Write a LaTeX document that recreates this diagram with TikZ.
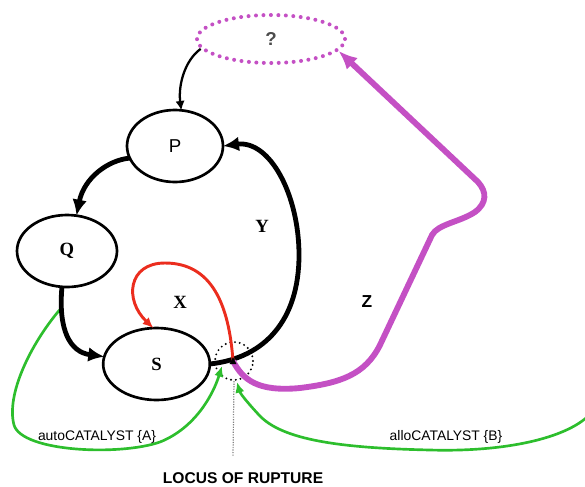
\documentclass[tikz,border=0pt]{standalone}
\usepackage{fontspec}
\setmainfont{Liberation Serif}
\setsansfont{Liberation Sans}
\usetikzlibrary{arrows.meta,shapes.geometric}
\definecolor{mag}{RGB}{196,80,196}
\definecolor{grn}{RGB}{45,190,45}
\definecolor{rd}{RGB}{235,45,30}
\tikzset{
  ell/.style={ellipse, draw, line width=2pt, inner sep=0pt, outer sep=0pt},
  lbl/.style={font=\sffamily\fontsize{10.4}{12}\selectfont},
  thickarrow/.style={line width=3.6pt, -{Latex[length=12pt,width=11pt]}},
  thinarrow/.style={line width=1.7pt, -{Latex[length=7pt,width=7pt]}},
  redarrow/.style={rd, line width=2.2pt, -{Latex[length=8pt,width=7pt]}},
  magarrow/.style={mag, line width=4.4pt, -{Latex[length=14pt,width=12pt]}},
  grnarrow/.style={grn, line width=2pt, -{Latex[length=8pt,width=7pt]}},
  bigserif/.style={font=\bfseries\fontsize{14}{14}\selectfont},
}
\begin{document}
\begin{tikzpicture}[x=0.75pt,y=-0.75pt]
\useasboundingbox (0,0) rectangle (585,486);
% nodes
\node[ell, minimum width=72pt, minimum height=54pt, font=\sffamily\fontsize{14}{14}\selectfont] (P) at (175,146) {P};
\node[ell, bigserif, minimum width=75pt, minimum height=54pt] (Q) at (67,251) {Q};
\node[ell, bigserif, minimum width=80pt, minimum height=54pt] (S) at (156.5,364) {S};
\node[ellipse, draw=mag, line width=3pt, line cap=round, dash pattern=on 0pt off 5.6pt,
      minimum width=111pt, minimum height=36pt, inner sep=0pt,
      font=\sffamily\bfseries\fontsize{14}{14}\selectfont, text=black!70] (qm) at (271,39) {?};
\node[circle, draw, line width=1.6pt, line cap=round, dash pattern=on 0pt off 3.6pt,
      minimum size=28.5pt, inner sep=0pt] (loc) at (234,361) {};
\coordinate (J) at (233,361);
\coordinate (A0) at (59.5,310);
\coordinate (TA) at (222,366);
\coordinate (TB) at (237,382);
\coordinate (Bend) at (586,418);
\coordinate (LB) at (233,456);

% green catalysts
\draw[grnarrow] (A0) .. controls (30,345) and (6,395) .. (14,425)
   .. controls (22,452) and (120,456) .. (160,442)
   .. controls (195,428) and (213,395) .. (TA);
\draw[grnarrow] (Bend) .. controls (560,440) and (500,452) .. (430,450)
   .. controls (340,448) and (282,440) .. (259,415)
   .. controls (246,401) and (240,393) .. (TB);

% dotted locus line
\draw[gray, line width=0.9pt, densely dotted] (loc.south) -- (LB);

% black arrows
\draw[thinarrow] (qm.188) .. controls (185,60) and (178,85) .. (P.80);
\draw[thickarrow] (P.195) .. controls (108,160) and (84,178) .. (Q.75);
\draw[thickarrow] (Q.262) .. controls (58,330) and (70,352) .. (S.172);
\draw[thickarrow] (S.east) .. controls (265,358) and (299,320) .. (299,255)
   .. controls (299,195) and (270,140) .. (P.east);

% red X
\draw[redarrow] (J) .. controls (229,305) and (212,263) .. (165,263)
   .. controls (128,263) and (124,300) .. (S.95);

% magenta Z
\draw[magarrow] (J) .. controls (243,380) and (258,392) .. (300,388)
   .. controls (340,383) and (365,375) .. (380,345)
   -- (432,235)
   .. controls (438,224) and (460,222) .. (475,212)
   .. controls (487,203) and (487,192) .. (478,182)
   -- (qm.-10);

% small tip at the junction
\fill (233,357) -- (229.5,364) -- (236.5,364) -- cycle;

% labels
\node[bigserif] (lX) at (180,302) {X};
\node[bigserif] (lY) at (262,226) {Y};
\node[font=\sffamily\bfseries\fontsize{13}{13}\selectfont] (lZ) at (367,302) {Z};
\node[lbl] (lA) at (97,437) {autoCATALYST \{A\}};
\node[lbl] (lB) at (446,437) {alloCATALYST \{B\}};
\node[font=\sffamily\bfseries\fontsize{11.7}{12}\selectfont] (lL) at (243,478) {LOCUS OF RUPTURE};
\end{tikzpicture}
\end{document}
